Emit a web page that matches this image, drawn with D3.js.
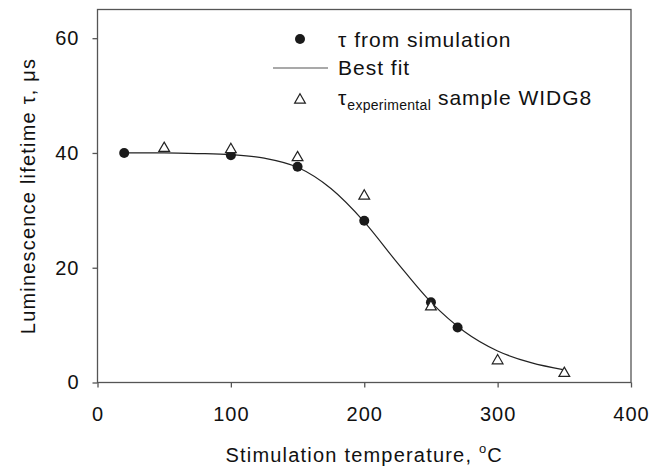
<!DOCTYPE html>
<html>
<head>
<meta charset="utf-8">
<script src="https://cdn.jsdelivr.net/npm/d3@7"></script>
<style>
  body { margin: 0; background: #fff; }
  text { font-family: "Liberation Sans", Arial, sans-serif; fill: #111; }
</style>
</head>
<body>
<div id="chart"></div>
<script>
// simulated lifetime (filled circles)
const simTemp = [20, 100, 150, 200, 250, 270]
const simTau = [40, 39.6, 37.6, 28.2, 14.0, 9.6]

// experimental lifetime, sample WIDG8 (open triangles)
const expTemp = [50, 100, 150, 200, 250, 300, 350]
const expTau = [40.8, 40.6, 39.2, 32.5, 13.2, 3.8, 1.6]

// best fit curve
const fitTemp = [20, 50, 75, 100, 125, 150, 175, 200, 225, 250, 275, 300, 325, 350]
const fitTau = [40, 40, 39.9, 39.7, 39.1, 37.5, 33.8, 28, 20.8, 14, 8.9, 5.5, 3.45, 2.2]

const xTicks = [0, 100, 200, 300, 400]
const yTicks = [0, 20, 40, 60]

const width = 667
const height = 471
const margin = { top: 9.5, right: 36, bottom: 88.5, left: 97.5 }

const svg = d3.select('#chart')
  .append('svg')
  .attr('width', width)
  .attr('height', height)

const x = d3.scaleLinear().domain([0, 400]).range([margin.left, width - margin.right])
const y = d3.scaleLinear().domain([0, 65]).range([height - margin.bottom, margin.top])

const axisColor = '#555'

// frame
svg.append('rect')
  .attr('x', margin.left)
  .attr('y', margin.top)
  .attr('width', x(400) - x(0))
  .attr('height', y(0) - y(65))
  .attr('fill', 'none')
  .attr('stroke', axisColor)
  .attr('stroke-width', 1.3)

const styleTicks = function (g) {
  g.select('.domain').remove()
  g.selectAll('line').attr('stroke', axisColor).attr('stroke-width', 1.3)
  g.selectAll('text')
    .attr('font-size', 20)
    .attr('letter-spacing', 1)
    .attr('font-family', 'Liberation Sans, Arial, sans-serif')
    .attr('fill', '#111')
}

svg.append('g')
  .attr('transform', 'translate(0,' + y(0) + ')')
  .call(d3.axisBottom(x).tickValues(xTicks).tickSize(5).tickPadding(19).tickFormat(d3.format('d')))
  .call(styleTicks)

svg.append('g')
  .attr('transform', 'translate(' + x(0) + ',0)')
  .call(d3.axisLeft(y).tickValues(yTicks).tickSize(5).tickPadding(13).tickFormat(d3.format('d')))
  .call(styleTicks)

// axis titles
const xTitle = svg.append('text')
  .attr('x', (x(0) + x(400)) / 2)
  .attr('y', 461.5)
  .attr('text-anchor', 'middle')
  .attr('font-size', 20)
  .attr('letter-spacing', 1.2)
xTitle.append('tspan').text('Stimulation temperature, ')
xTitle.append('tspan').attr('font-size', 13).attr('dy', -9).text('o')
xTitle.append('tspan').attr('dy', 9).text('C')

svg.append('text')
  .attr('transform', 'translate(35,' + ((y(0) + y(65)) / 2) + ') rotate(-90)')
  .attr('text-anchor', 'middle')
  .attr('font-size', 20)
  .attr('letter-spacing', 1.2)
  .text('Luminescence lifetime \u03c4, \u03bcs')

// fit line
const fitData = fitTemp.map((t, i) => [t, fitTau[i]])
svg.append('path')
  .datum(fitData)
  .attr('fill', 'none')
  .attr('stroke', '#222')
  .attr('stroke-width', 1.2)
  .attr('d', d3.line().x(d => x(d[0])).y(d => y(d[1])).curve(d3.curveMonotoneX))

const tri = d3.symbol().type(d3.symbolTriangle).size(50)

svg.selectAll('circle.sim')
  .data(simTemp.map((t, i) => [t, simTau[i]]))
  .enter()
  .append('circle')
  .attr('class', 'sim')
  .attr('cx', d => x(d[0]))
  .attr('cy', d => y(d[1]))
  .attr('r', 5)
  .attr('fill', '#1a1a1a')

svg.selectAll('path.exp')
  .data(expTemp.map((t, i) => [t, expTau[i]]))
  .enter()
  .append('path')
  .attr('class', 'exp')
  .attr('transform', d => 'translate(' + x(d[0]) + ',' + y(d[1]) + ')')
  .attr('d', tri)
  .attr('fill', '#fff')
  .attr('stroke', '#222')
  .attr('stroke-width', 1.2)

// legend
const legend = svg.append('g')
legend.append('circle').attr('cx', 300).attr('cy', 39).attr('r', 5).attr('fill', '#1a1a1a')
legend.append('text').attr('x', 338).attr('y', 47).attr('font-size', 21).attr('letter-spacing', 1)
  .text('\u03c4 from simulation')

legend.append('line').attr('x1', 273).attr('x2', 328).attr('y1', 68).attr('y2', 68)
  .attr('stroke', '#555').attr('stroke-width', 1.2)
legend.append('text').attr('x', 338).attr('y', 75).attr('font-size', 21).attr('letter-spacing', 1)
  .text('Best fit')

legend.append('path').attr('transform', 'translate(300,100)').attr('d', tri)
  .attr('fill', '#fff').attr('stroke', '#222').attr('stroke-width', 1.2)
const expLabel = legend.append('text').attr('x', 338).attr('y', 105).attr('font-size', 21).attr('letter-spacing', 1)
expLabel.append('tspan').text('\u03c4')
expLabel.append('tspan').attr('font-size', 14).attr('letter-spacing', 0.3).attr('dy', 5).text('experimental')
expLabel.append('tspan').attr('dy', -5).text(' sample WIDG8')
</script>
</body>
</html>
